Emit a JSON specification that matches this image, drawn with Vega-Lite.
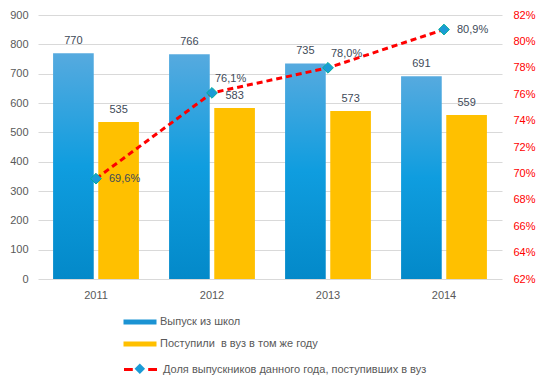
{
  "$schema": "https://vega.github.io/schema/vega-lite/v6.json",
  "width": 464,
  "height": 264,
  "autosize": "none",
  "padding": {"left": 38, "top": 15, "right": 41, "bottom": 105},
  "config": {
    "locale": {"number": {"decimal": ",", "thousands": " ", "grouping": [3], "currency": ["", ""]}},
    "view": {"stroke": null},
    "font": "Liberation Sans",
    "axis": {"labelFont": "Liberation Sans", "labelFontSize": 11, "labelColor": "#595959", "ticks": false, "domain": false, "title": null, "gridColor": "#d9d9d9"},
    "legend": {"labelFont": "Liberation Sans", "labelFontSize": 11, "labelColor": "#595959", "padding": 0, "title": null, "labelLimit": 400}
  },
  "datasets": {
    "bars": [
      {"year": "2011", "series": "Выпуск из школ", "value": 770},
      {"year": "2011", "series": "Поступили  в вуз в том же году", "value": 535},
      {"year": "2012", "series": "Выпуск из школ", "value": 766},
      {"year": "2012", "series": "Поступили  в вуз в том же году", "value": 583},
      {"year": "2013", "series": "Выпуск из школ", "value": 735},
      {"year": "2013", "series": "Поступили  в вуз в том же году", "value": 573},
      {"year": "2014", "series": "Выпуск из школ", "value": 691},
      {"year": "2014", "series": "Поступили  в вуз в том же году", "value": 559}
    ],
    "share": [
      {"year": "2011", "share": 0.696},
      {"year": "2012", "share": 0.761},
      {"year": "2013", "share": 0.780},
      {"year": "2014", "share": 0.809}
    ]
  },
  "layer": [
    {
      "layer": [
        {
          "data": {"name": "bars"},
          "transform": [{"filter": "datum.series === 'Выпуск из школ'"}],
          "mark": {"type": "bar", "fill": {"gradient": "linear", "x1": 0, "y1": 0, "x2": 0, "y2": 1, "stops": [{"offset": 0, "color": "#56aadf"}, {"offset": 0.5, "color": "#0f9ddf"}, {"offset": 1, "color": "#0389c9"}]}},
          "encoding": {
            "x": {"field": "year", "type": "nominal", "scale": {"paddingInner": 0.26, "paddingOuter": 0.13}, "axis": {"labelAngle": 0, "labelPadding": 10, "grid": false}},
            "xOffset": {"field": "series", "type": "nominal", "scale": {"domain": ["Выпуск из школ", "Поступили  в вуз в том же году"], "paddingInner": 0.1, "paddingOuter": 0}},
            "y": {"field": "value", "type": "quantitative", "scale": {"domain": [0, 900], "nice": false}, "axis": {"values": [0, 100, 200, 300, 400, 500, 600, 700, 800, 900], "tickCount": 30, "grid": true, "labelPadding": 10, "labelOverlap": false}}
          }
        },
        {
          "data": {"name": "bars"},
          "transform": [{"filter": "datum.series !== 'Выпуск из школ'"}],
          "mark": {"type": "bar"},
          "encoding": {
            "x": {"field": "year", "type": "nominal"},
            "xOffset": {"field": "series", "type": "nominal"},
            "y": {"field": "value", "type": "quantitative"},
            "color": {"field": "series", "type": "nominal", "scale": {"domain": ["Выпуск из школ", "Поступили  в вуз в том же году"], "range": ["#1b93d3", "#ffc000"]}, "legend": {"orient": "none", "legendX": 96.5, "legendY": 301.5, "direction": "vertical", "symbolType": "M-3,-0.45H3V0.45H-3Z", "symbolSize": 121, "labelOffset": 14.5, "rowPadding": 10, "symbolStrokeWidth": 0, "labelExpr": "replace(datum.label, '  ', '\u00a0 ')"}}
          }
        },
        {
          "data": {"name": "bars"},
          "mark": {"type": "text", "baseline": "alphabetic", "dy": -9, "fontSize": 11, "color": "#404a58"},
          "encoding": {
            "x": {"field": "year", "type": "nominal"},
            "xOffset": {"field": "series", "type": "nominal"},
            "y": {"field": "value", "type": "quantitative"},
            "text": {"field": "value", "type": "quantitative"}
          }
        }
      ]
    },
    {
      "data": {"name": "share"},
      "layer": [
        {
          "mark": {"type": "line", "strokeDash": [6, 4], "strokeWidth": 3},
          "encoding": {
            "x": {"field": "year", "type": "nominal"},
            "y": {"field": "share", "type": "quantitative", "scale": {"domain": [0.62, 0.82], "nice": false}, "axis": {"orient": "right", "values": [0.62, 0.64, 0.66, 0.68, 0.7, 0.72, 0.74, 0.76, 0.78, 0.8, 0.82], "tickCount": 30, "format": ".0%", "labelColor": "#ff0000", "grid": false, "labelPadding": 11, "labelOverlap": false}},
            "stroke": {"datum": "Доля выпускников данного года, поступивших в вуз", "type": "nominal", "scale": {"range": ["#ff0000"]}, "legend": {"orient": "none", "legendX": 95.5, "legendY": 347.5, "symbolType": "M-3,0H-1.4M1.4,0H3", "symbolSize": 121, "symbolStrokeWidth": 3, "symbolDash": [1000, 0], "labelOffset": 15.5}}
          }
        },
        {
          "mark": {"type": "point", "filled": true, "fill": "#1b9bd6", "stroke": "#00b09b", "strokeWidth": 1, "size": 115, "opacity": 1},
          "encoding": {
            "x": {"field": "year", "type": "nominal"},
            "y": {"field": "share", "type": "quantitative"},
            "shape": {"datum": "маркер", "type": "nominal", "scale": {"range": ["diamond"]}, "legend": {"orient": "none", "legendX": 95.8, "legendY": 347.8, "symbolSize": 110, "symbolFillColor": "#1b9bd6", "symbolStrokeColor": "#00b09b", "symbolStrokeWidth": 1, "labelExpr": "''", "labelOffset": 0}}
          }
        },
        {
          "transform": [{"filter": "datum.year === '2011' || datum.year === '2014'"}],
          "mark": {"type": "text", "align": "left", "baseline": "middle", "dx": 13, "fontSize": 11, "color": "#404a58"},
          "encoding": {
            "x": {"field": "year", "type": "nominal"},
            "y": {"field": "share", "type": "quantitative"},
            "text": {"field": "share", "type": "quantitative", "format": ".1%"}
          }
        },
        {
          "transform": [{"filter": "datum.year === '2012' || datum.year === '2013'"}],
          "mark": {"type": "text", "align": "left", "baseline": "middle", "dx": 3, "dy": -14, "fontSize": 11, "color": "#404a58"},
          "encoding": {
            "x": {"field": "year", "type": "nominal"},
            "y": {"field": "share", "type": "quantitative"},
            "text": {"field": "share", "type": "quantitative", "format": ".1%"}
          }
        }
      ]
    }
  ],
  "resolve": {"scale": {"y": "independent"}}
}
